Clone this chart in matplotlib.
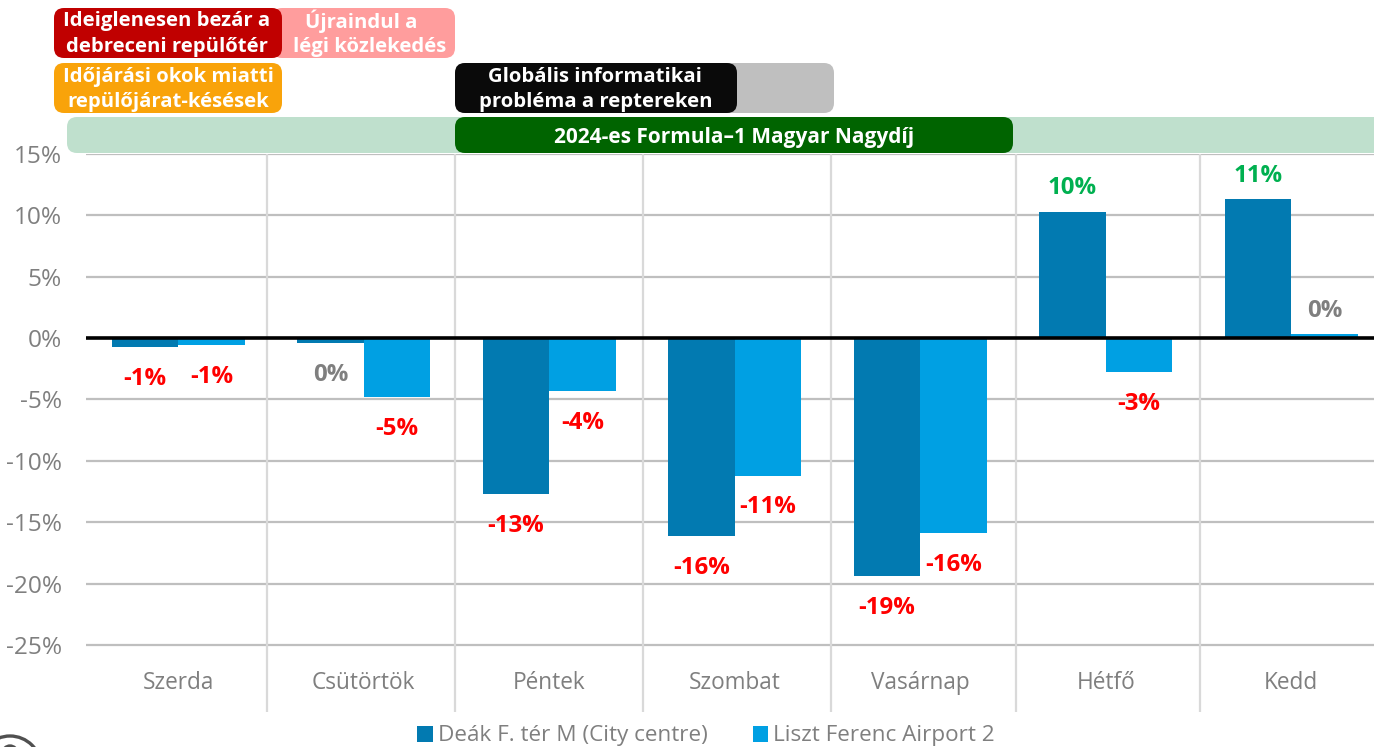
import matplotlib
matplotlib.use('Agg')
import matplotlib.pyplot as plt
from matplotlib.patches import FancyBboxPatch, Circle
import numpy as np

plt.rcParams['font.family'] = ['Open Sans', 'DejaVu Sans']

days = ['Szerda', 'Csütörtök', 'Péntek', 'Szombat', 'Vasárnap', 'Hétfő', 'Kedd']
deak = [-0.7, -0.4, -12.7, -16.1, -19.4, 10.3, 11.3]
airport = [-0.6, -4.8, -4.3, -11.2, -15.9, -2.8, 0.3]
deak_labels = ['-1%', '0%', '-13%', '-16%', '-19%', '10%', '11%']
airport_labels = ['-1%', '-5%', '-4%', '-11%', '-16%', '-3%', '0%']
yticks = [15, 10, 5, 0, -5, -10, -15, -20, -25]
day_edges = [0.478, 1.491, 2.505, 3.518, 4.516, 5.507]

RED = '#FF0000'
GREEN = '#00B050'
GREY = '#7F7F7F'
DARK = '#027AB1'
LIGHT = '#00A0E3'


def label_color(txt):
    if txt == '0%':
        return GREY
    return RED if txt.startswith('-') else GREEN


W, H = 1374, 747
fig = plt.figure(figsize=(W / 100, H / 100), dpi=100)
left = 85.5
cat = 185.5
ax = fig.add_axes([left / W, (H - 712) / H, (W - left) / W, (712 - 154) / H])
ax.set_xlim(-0.5, (W - left) / cat - 0.5)
ax.set_ylim(-(712 - 338) / 12.275, 15)
for s in ax.spines.values():
    s.set_visible(False)
ax.patch.set_alpha(0)

x = np.arange(len(days))
bw = 0.358
ax.bar(x - bw / 2, deak, bw, color=DARK, label='Deák F. tér M (City centre)', zorder=3)
ax.bar(x + bw / 2, airport, bw, color=LIGHT, label='Liszt Ferenc Airport 2', zorder=3)

ax.set_yticks(yticks)
ax.set_yticklabels([f'{v}%' for v in yticks], color=GREY, fontsize=17.6)
ax.tick_params(axis='y', length=0, pad=17)
ax.set_xticks(x)
ax.set_xticklabels(days, color=GREY, fontsize=16.3)
ax.tick_params(axis='x', length=0, pad=-29.5)

for v in yticks:
    ax.axhline(v, color='#BFBFBF', lw=1.6, zorder=1)
for e in day_edges:
    ax.axvline(e, color='#D9D9D9', lw=1.6, zorder=1)
ax.axhline(0, color='black', lw=2.6, zorder=4)

for i in x:
    for xpos, val, txt in ((i - bw / 2, deak[i], deak_labels[i]),
                           (i + bw / 2, airport[i], airport_labels[i])):
        ax.annotate(txt, (xpos, val), xytext=(0, 17 if val > 0 else -23), textcoords='offset points',
                    ha='center', va='center', color=label_color(txt),
                    fontsize=17.3, fontweight='bold', zorder=5)

ax.legend(loc='center', bbox_to_anchor=(706 / W, (H - 736) / H), bbox_transform=fig.transFigure,
          ncol=2, frameon=False, fontsize=16.2, handlelength=0.7, handleheight=0.7,
          handletextpad=0.22, columnspacing=2.0, labelcolor=GREY, borderpad=0)

# banners and logo, in pixel coordinates
ov = fig.add_axes([0, 0, 1, 1], zorder=10)
ov.set_xlim(0, W)
ov.set_ylim(H, 0)
ov.axis('off')


def banner(x0, x1, y0, y1, color, z=1):
    ov.add_patch(FancyBboxPatch((x0 + 10, y0 + 10), x1 - x0 - 20, y1 - y0 - 20,
                                boxstyle='round,pad=10,rounding_size=10', fc=color, ec='none', zorder=z))


def blabel(xc, yc, txt, size=14.6):
    ov.text(xc, yc, txt, color='white', fontsize=size, fontweight='bold', ha='center', va='center', zorder=6)


banner(67, 1374 + 30, 117, 153, '#BFE0CD', 1)
banner(455, 1013, 117, 153, '#006400', 2)
banner(272, 455, 8, 58, '#FF9D9D', 1)
banner(54, 282, 8, 58, '#C00000', 2)
banner(54, 282, 63, 113, '#F9A30A', 1)
banner(455, 834, 63, 113, '#BFBFBF', 1)
banner(455, 737, 63, 113, '#0A0A0A', 2)

blabel(167, 21, 'Ideiglenesen bezár a')
blabel(167, 47, 'debreceni repülőtér')
blabel(361, 21, 'Újraindul a')
blabel(370, 47, 'légi közlekedés')
blabel(168, 77, 'Időjárási okok miatti')
blabel(168, 102.5, 'repülőjárat-késések')
blabel(595, 77, 'Globális informatikai')
blabel(596, 102.5, 'probléma a reptereken')
blabel(734, 138, '2024-es Formula–1 Magyar Nagydíj', 15)

ov.add_patch(Circle((10, 767), 31, fc='none', ec='#505050', lw=2.4))
ov.add_patch(Circle((10, 753), 7, fc='none', ec='#505050', lw=2.4))

fig.savefig('out.png', dpi=100)
